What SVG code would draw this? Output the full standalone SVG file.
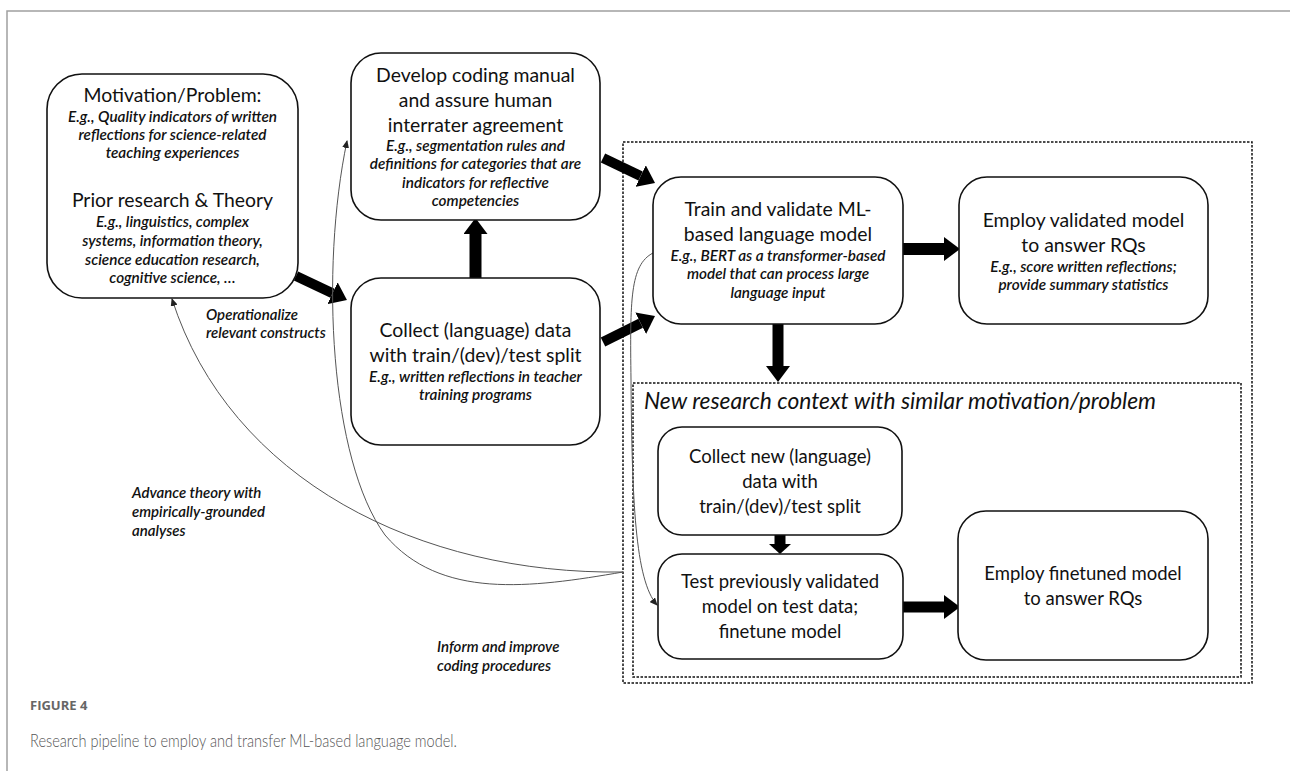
<svg xmlns="http://www.w3.org/2000/svg" width="1290" height="771" viewBox="0 0 1290 771">
<style>
.box{fill:#fff;stroke:#111;stroke-width:1.6}
.t{font-family:Lato,"Liberation Sans",sans-serif;font-size:19.4px;fill:#111;text-anchor:middle}
.m{font-size:18.5px}
.s{font-family:Lato,"Liberation Sans",sans-serif;font-size:15.3px;font-style:italic;font-weight:600;fill:#111;text-anchor:middle}
.lab{font-family:Lato,"Liberation Sans",sans-serif;font-size:15px;font-style:italic;font-weight:600;fill:#111}
.dash{fill:none;stroke:#111;stroke-width:1.5;stroke-dasharray:2.5 1.5}
.blk{stroke:#000;fill:none}
.thin{stroke:#555;stroke-width:1;fill:none;marker-end:url(#sh)}
</style>
<defs>
<marker id="bh" markerWidth="16" markerHeight="24" refX="0" refY="12" orient="auto" markerUnits="userSpaceOnUse"><path d="M0,0 L16,12 L0,24 z" fill="#000"/></marker>
<marker id="bs" markerWidth="10" markerHeight="22" refX="0" refY="11" orient="auto" markerUnits="userSpaceOnUse"><path d="M0,0 L10,11 L0,22 z" fill="#000"/></marker>
<marker id="sh" markerWidth="8" markerHeight="7" refX="7" refY="3.5" orient="auto" markerUnits="userSpaceOnUse"><path d="M0,0 L8,3.5 L0,7 z" fill="#222"/></marker>
</defs>
<rect width="1290" height="771" fill="#fff"/>
<path d="M7,771 L7,11 L1290,11" fill="none" stroke="#a0a0a0" stroke-width="1.5"/>

<g id="frames">
<rect class="dash" x="623" y="142" width="629" height="541"/>
<rect class="dash" x="633" y="383" width="608" height="294"/>
<text x="644" y="409" font-family="Lato,'Liberation Sans',sans-serif" font-size="22.8" font-style="italic" fill="#111">New research context with similar motivation/problem</text>
</g>

<g id="connectors">
<line class="blk" x1="296" y1="276" x2="332.5" y2="293.2" stroke-width="10" marker-end="url(#bh)"/>
<line class="blk" x1="603" y1="158" x2="640.6" y2="176.1" stroke-width="10" marker-end="url(#bh)"/>
<line class="blk" x1="603" y1="342" x2="640.7" y2="323.2" stroke-width="10" marker-end="url(#bh)"/>
<line class="blk" x1="475.5" y1="278" x2="475.5" y2="234" stroke-width="12" marker-end="url(#bh)"/>
<line class="blk" x1="903" y1="249" x2="944" y2="249" stroke-width="12" marker-end="url(#bh)"/>
<line class="blk" x1="778" y1="324" x2="778" y2="366" stroke-width="11" marker-end="url(#bh)"/>
<line class="blk" x1="780" y1="535" x2="780" y2="544" stroke-width="11" marker-end="url(#bs)"/>
<line class="blk" x1="903" y1="607" x2="944" y2="607" stroke-width="11" marker-end="url(#bh)"/>
<path class="thin" d="M623,572 C420,575 230,480 172,299"/>
<path class="thin" d="M623,572 C530,588 440,600 385,535 C330,460 320,270 347,141"/>
<path class="thin" d="M653,253 C630,265 630,300 631,380 C632,500 635,580 657,605"/>
<text class="lab" x="206" y="320">Operationalize</text>
<text class="lab" x="206" y="338">relevant constructs</text>
<text class="lab" x="132" y="498">Advance theory with</text>
<text class="lab" x="132" y="517">empirically-grounded</text>
<text class="lab" x="132" y="536">analyses</text>
<text class="lab" x="437" y="652">Inform and improve</text>
<text class="lab" x="437" y="671">coding procedures</text>
</g>

<g id="motivation">
<rect class="box" x="47" y="74" width="251" height="224" rx="35"/>
<text class="t" x="172.5" y="102" font-size="20.5">Motivation/Problem:</text>
<text class="s" x="172.5" y="122">E.g., Quality indicators of written</text>
<text class="s" x="172.5" y="140">reflections for science-related</text>
<text class="s" x="172.5" y="158">teaching experiences</text>
<text class="t" x="172.5" y="207" font-size="20.5">Prior research &amp; Theory</text>
<text class="s" x="172.5" y="227">E.g., linguistics, complex</text>
<text class="s" x="172.5" y="246">systems, information theory,</text>
<text class="s" x="172.5" y="265">science education research,</text>
<text class="s" x="172.5" y="283">cognitive science, …</text>
</g>

<g id="develop">
<rect class="box" x="351" y="53" width="249" height="167" rx="30"/>
<text class="t" x="475.5" y="82">Develop coding manual</text>
<text class="t" x="475.5" y="107">and assure human</text>
<text class="t" x="475.5" y="132">interrater agreement</text>
<text class="s" x="475.5" y="151">E.g., segmentation rules and</text>
<text class="s" x="475.5" y="169">definitions for categories that are</text>
<text class="s" x="475.5" y="188">indicators for reflective</text>
<text class="s" x="475.5" y="206">competencies</text>
</g>

<g id="collect">
<rect class="box" x="351" y="278" width="249" height="167" rx="30"/>
<text class="t" x="475.5" y="337">Collect (language) data</text>
<text class="t" x="475.5" y="362">with train/(dev)/test split</text>
<text class="s" x="475.5" y="382">E.g., written reflections in teacher</text>
<text class="s" x="475.5" y="400">training programs</text>
</g>

<g id="train">
<rect class="box" x="653" y="177" width="250" height="147" rx="28"/>
<text class="t" x="778" y="216" font-size="19">Train and validate ML-</text>
<text class="t" x="778" y="241" font-size="19">based language model</text>
<text class="s" x="778" y="261">E.g., BERT as a transformer-based</text>
<text class="s" x="778" y="279">model that can process large</text>
<text class="s" x="778" y="298">language input</text>
</g>

<g id="employ-validated">
<rect class="box" x="959" y="177" width="249" height="147" rx="28"/>
<text class="t" x="1083.5" y="227">Employ validated model</text>
<text class="t" x="1083.5" y="252">to answer RQs</text>
<text class="s" x="1083.5" y="272">E.g., score written reflections;</text>
<text class="s" x="1083.5" y="290">provide summary statistics</text>
</g>

<g id="collect-new">
<rect class="box" x="658" y="427" width="244" height="108" rx="24"/>
<text class="t m" x="780" y="463">Collect new (language)</text>
<text class="t m" x="780" y="488">data with</text>
<text class="t m" x="780" y="513">train/(dev)/test split</text>
</g>

<g id="test">
<rect class="box" x="658" y="554" width="245" height="105" rx="24"/>
<text class="t m" x="780" y="588">Test previously validated</text>
<text class="t m" x="780" y="613">model on test data;</text>
<text class="t m" x="780" y="638">finetune model</text>
</g>

<g id="employ-finetuned">
<rect class="box" x="958" y="511" width="250" height="149" rx="28"/>
<text class="t m" x="1083" y="580">Employ finetuned model</text>
<text class="t m" x="1083" y="605">to answer RQs</text>
</g>

<g id="caption">
<text x="30" y="710" font-family="'Open Sans','Liberation Sans',sans-serif" font-size="13" font-weight="700" fill="#666">FIGURE 4</text>
<text x="30" y="747" font-family="Lato,'Open Sans','Liberation Sans',sans-serif" font-size="17" font-weight="300" fill="#555" textLength="427" lengthAdjust="spacingAndGlyphs">Research pipeline to employ and transfer ML-based language model.</text>
</g>
</svg>
